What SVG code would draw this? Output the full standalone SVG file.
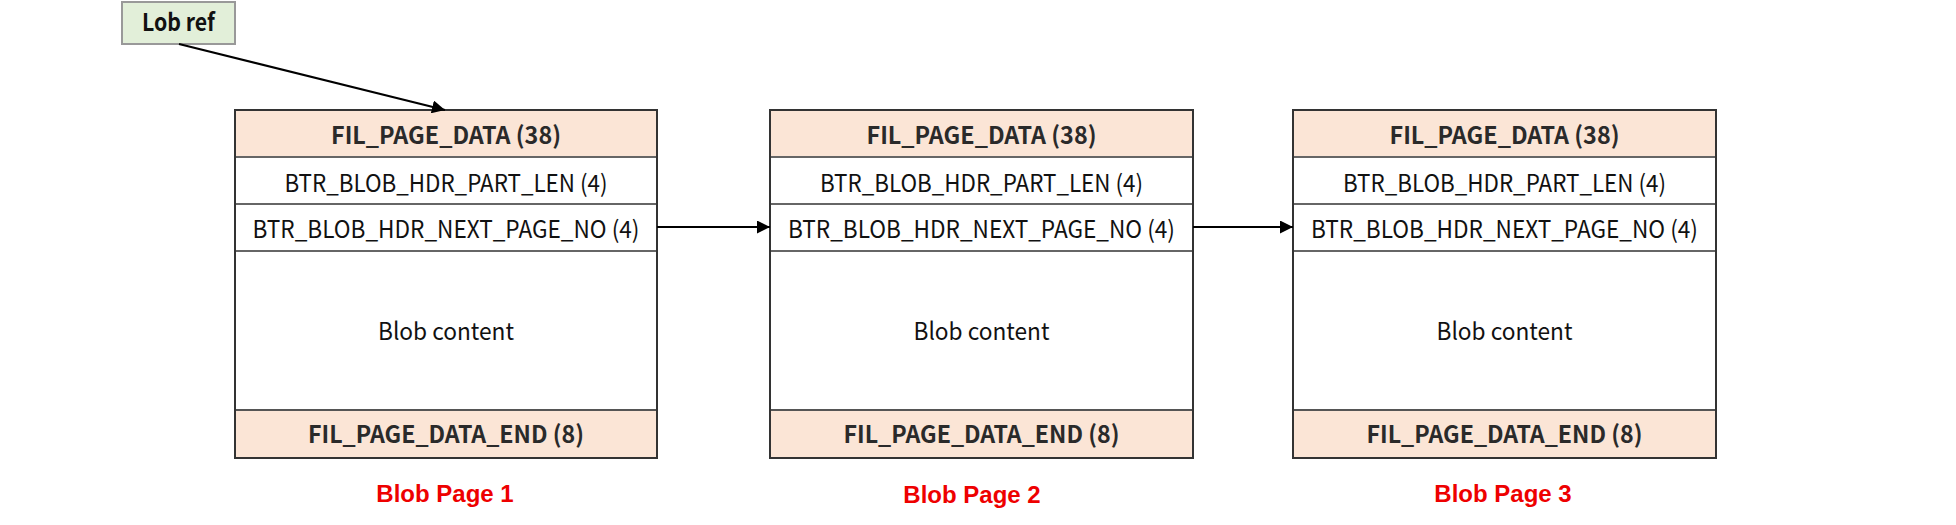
<svg xmlns="http://www.w3.org/2000/svg" width="1956" height="525" viewBox="0 0 1956 525">
<style>
.hdr{fill:#fbe5d6;stroke:#555;stroke-width:2}
.row{fill:#ffffff;stroke:#666;stroke-width:2}
.outer{fill:none;stroke:#333;stroke-width:2}
.t{font-family:"Noto Sans CJK SC","Noto Sans",sans-serif;font-size:24px;fill:#111;text-anchor:middle}
.b{font-weight:bold;fill:#2a2a2a}
.lbl{font-family:"Liberation Sans",Arial,sans-serif;font-weight:bold;font-size:24px;fill:#ee0000;text-anchor:middle}
.conn{stroke:#000;stroke-width:2;fill:none}
</style>
<defs>
<marker id="ah" viewBox="0 0 10 10" refX="10" refY="5" markerWidth="6.5" markerHeight="6.5" markerUnits="strokeWidth" orient="auto">
<path d="M0,0 L10,5 L0,10 z" fill="#000"/>
</marker>
</defs>
<rect width="1956" height="525" fill="#ffffff"/>
<g id="lobref">
<rect x="122" y="2" width="113" height="42" fill="#e2efd9" stroke="#999" stroke-width="2"/>
<text class="t b" x="178.5" y="31" font-size="19" textLength="73" lengthAdjust="spacingAndGlyphs" style="fill:#111">Lob ref</text>
</g>
<g id="page1">
<rect class="hdr" x="235" y="110" width="422" height="47"/>
<rect class="row" x="235" y="157" width="422" height="47"/>
<rect class="row" x="235" y="204" width="422" height="47"/>
<rect class="row" x="235" y="251" width="422" height="159"/>
<rect class="hdr" x="235" y="410" width="422" height="48"/>
<rect class="outer" x="235" y="110" width="422" height="348"/>
<text class="t b" x="446" y="144" textLength="230" lengthAdjust="spacingAndGlyphs">FIL_PAGE_DATA (38)</text>
<text class="t" x="446" y="192" textLength="323" lengthAdjust="spacingAndGlyphs">BTR_BLOB_HDR_PART_LEN (4)</text>
<text class="t" x="446" y="238" textLength="387" lengthAdjust="spacingAndGlyphs">BTR_BLOB_HDR_NEXT_PAGE_NO (4)</text>
<text class="t" x="446" y="340" textLength="136" lengthAdjust="spacingAndGlyphs">Blob content</text>
<text class="t b" x="446" y="443" textLength="276" lengthAdjust="spacingAndGlyphs">FIL_PAGE_DATA_END (8)</text>
<text class="lbl" x="445" y="502">Blob Page 1</text>
</g>
<g id="page2">
<rect class="hdr" x="770" y="110" width="423" height="47"/>
<rect class="row" x="770" y="157" width="423" height="47"/>
<rect class="row" x="770" y="204" width="423" height="47"/>
<rect class="row" x="770" y="251" width="423" height="159"/>
<rect class="hdr" x="770" y="410" width="423" height="48"/>
<rect class="outer" x="770" y="110" width="423" height="348"/>
<text class="t b" x="981.5" y="144" textLength="230" lengthAdjust="spacingAndGlyphs">FIL_PAGE_DATA (38)</text>
<text class="t" x="981.5" y="192" textLength="323" lengthAdjust="spacingAndGlyphs">BTR_BLOB_HDR_PART_LEN (4)</text>
<text class="t" x="981.5" y="238" textLength="387" lengthAdjust="spacingAndGlyphs">BTR_BLOB_HDR_NEXT_PAGE_NO (4)</text>
<text class="t" x="981.5" y="340" textLength="136" lengthAdjust="spacingAndGlyphs">Blob content</text>
<text class="t b" x="981.5" y="443" textLength="276" lengthAdjust="spacingAndGlyphs">FIL_PAGE_DATA_END (8)</text>
<text class="lbl" x="972" y="503">Blob Page 2</text>
</g>
<g id="page3">
<rect class="hdr" x="1293" y="110" width="423" height="47"/>
<rect class="row" x="1293" y="157" width="423" height="47"/>
<rect class="row" x="1293" y="204" width="423" height="47"/>
<rect class="row" x="1293" y="251" width="423" height="159"/>
<rect class="hdr" x="1293" y="410" width="423" height="48"/>
<rect class="outer" x="1293" y="110" width="423" height="348"/>
<text class="t b" x="1504.5" y="144" textLength="230" lengthAdjust="spacingAndGlyphs">FIL_PAGE_DATA (38)</text>
<text class="t" x="1504.5" y="192" textLength="323" lengthAdjust="spacingAndGlyphs">BTR_BLOB_HDR_PART_LEN (4)</text>
<text class="t" x="1504.5" y="238" textLength="387" lengthAdjust="spacingAndGlyphs">BTR_BLOB_HDR_NEXT_PAGE_NO (4)</text>
<text class="t" x="1504.5" y="340" textLength="136" lengthAdjust="spacingAndGlyphs">Blob content</text>
<text class="t b" x="1504.5" y="443" textLength="276" lengthAdjust="spacingAndGlyphs">FIL_PAGE_DATA_END (8)</text>
<text class="lbl" x="1503" y="502">Blob Page 3</text>
</g>
<g id="connectors">
<line class="conn" x1="179" y1="44" x2="445" y2="110" marker-end="url(#ah)"/>
<line class="conn" x1="657" y1="227" x2="770" y2="227" marker-end="url(#ah)"/>
<line class="conn" x1="1193" y1="227" x2="1293" y2="227" marker-end="url(#ah)"/>
</g>
</svg>
